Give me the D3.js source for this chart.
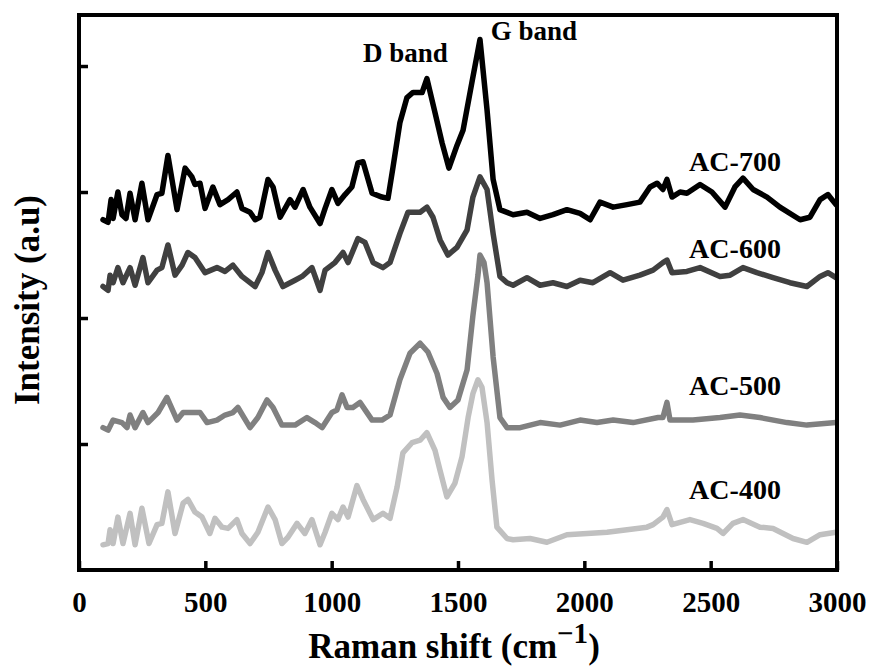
<!DOCTYPE html>
<html>
<head>
<meta charset="utf-8">
<script src="https://cdn.jsdelivr.net/npm/d3@7"></script>
<style>
  body { margin: 0; background: #fff; }
  text { font-family: "Liberation Serif", "Times New Roman", serif; font-weight: bold; }
</style>
</head>
<body>
<script>
// Raman spectra, offset vertically (a.u.)
var ac700x = [95,115,127,135,154,170,186,202,222,249,273,309,328,352,388,420,447,459,479,499,530,558,590,625,645,677,697,716,748,768,796,835,855,887,914,954,974,1001,1025,1053,1080,1104,1124,1160,1199,1223,1243,1270,1298,1322,1358,1377,1409,1437,1464,1496,1520,1555,1587,1615,1639,1666,1718,1773,1825,1876,1931,1983,2023,2062,2114,2169,2220,2260,2288,2311,2327,2347,2379,2406,2458,2505,2557,2596,2628,2668,2723,2774,2854,2893,2933,2964,2996];
var ac700y = [2.78,2.76,2.94,2.79,3.00,2.82,2.79,2.99,2.78,3.07,2.78,2.98,2.99,3.29,2.86,3.19,3.12,3.06,3.07,2.87,3.04,2.90,2.94,3.00,2.87,2.84,2.78,2.80,3.10,3.04,2.80,2.94,2.88,3.02,2.88,2.75,2.87,3.02,2.91,2.98,3.04,3.23,3.24,2.99,2.96,2.95,3.20,3.55,3.75,3.79,3.79,3.90,3.63,3.39,3.19,3.37,3.49,3.87,4.21,3.65,3.10,2.86,2.82,2.84,2.79,2.82,2.86,2.83,2.78,2.92,2.88,2.90,2.92,3.04,3.07,3.02,3.10,2.96,3.00,2.99,3.06,3.00,2.88,3.04,3.11,3.02,2.96,2.88,2.78,2.80,2.94,2.98,2.90];

var ac600x = [95,115,123,135,154,174,202,222,253,273,309,328,352,380,408,431,459,499,546,578,609,645,697,724,748,776,807,855,883,922,954,974,1013,1045,1065,1104,1132,1164,1203,1231,1270,1302,1350,1377,1401,1429,1460,1496,1536,1559,1587,1615,1639,1666,1694,1718,1773,1825,1876,1931,1983,2034,2102,2153,2220,2272,2311,2327,2347,2406,2458,2537,2577,2628,2683,2747,2814,2881,2933,2964,2996];
var ac600y = [2.25,2.22,2.34,2.28,2.40,2.28,2.40,2.26,2.48,2.28,2.38,2.40,2.58,2.34,2.42,2.52,2.48,2.36,2.40,2.37,2.42,2.33,2.25,2.36,2.52,2.38,2.25,2.30,2.33,2.40,2.22,2.38,2.44,2.52,2.44,2.63,2.60,2.44,2.40,2.44,2.67,2.84,2.84,2.88,2.80,2.62,2.50,2.56,2.70,2.96,3.12,3.02,2.67,2.33,2.28,2.26,2.32,2.26,2.28,2.25,2.30,2.28,2.36,2.30,2.34,2.38,2.44,2.46,2.36,2.37,2.40,2.33,2.34,2.40,2.36,2.32,2.28,2.25,2.33,2.36,2.32];

var ac500x = [95,115,135,170,190,202,222,253,273,313,348,388,412,447,479,507,546,578,609,629,677,708,744,768,803,855,902,934,962,1001,1021,1041,1061,1084,1112,1160,1199,1231,1270,1310,1350,1381,1417,1441,1468,1500,1536,1559,1579,1587,1603,1615,1639,1666,1694,1746,1825,1904,1983,2050,2114,2193,2292,2311,2327,2339,2430,2537,2616,2695,2802,2881,2996];
var ac500y = [1.13,1.11,1.19,1.17,1.13,1.23,1.13,1.25,1.17,1.25,1.37,1.19,1.25,1.25,1.25,1.17,1.19,1.23,1.25,1.29,1.13,1.21,1.35,1.29,1.15,1.15,1.21,1.17,1.13,1.25,1.27,1.39,1.29,1.29,1.33,1.19,1.19,1.23,1.51,1.72,1.80,1.73,1.56,1.37,1.29,1.35,1.59,2.02,2.34,2.50,2.44,2.28,1.69,1.21,1.13,1.13,1.17,1.15,1.19,1.17,1.19,1.17,1.21,1.21,1.33,1.19,1.19,1.21,1.23,1.21,1.17,1.15,1.17];

var ac400x = [95,115,123,135,154,174,202,222,249,277,309,328,352,380,412,431,459,487,518,538,566,590,625,645,677,708,748,776,803,827,863,894,922,954,974,1001,1025,1045,1065,1100,1124,1164,1203,1231,1259,1282,1318,1350,1377,1409,1429,1456,1488,1516,1540,1559,1579,1595,1615,1635,1654,1694,1718,1785,1852,1931,2011,2090,2169,2248,2272,2311,2327,2347,2418,2470,2525,2549,2588,2628,2695,2747,2826,2881,2933,2996];
var ac400y = [0.20,0.21,0.32,0.21,0.42,0.21,0.45,0.20,0.49,0.21,0.36,0.37,0.62,0.29,0.53,0.56,0.46,0.42,0.29,0.41,0.34,0.33,0.40,0.29,0.21,0.30,0.50,0.40,0.21,0.26,0.37,0.29,0.40,0.20,0.30,0.45,0.40,0.50,0.42,0.67,0.56,0.40,0.45,0.41,0.66,0.93,1.01,1.03,1.09,0.95,0.79,0.58,0.69,0.90,1.21,1.40,1.51,1.45,1.17,0.71,0.34,0.25,0.24,0.25,0.22,0.28,0.29,0.30,0.32,0.34,0.36,0.42,0.48,0.36,0.40,0.37,0.33,0.29,0.37,0.40,0.34,0.33,0.25,0.22,0.28,0.30];

var seriesNames = ["AC-700", "AC-600", "AC-500", "AC-400"];
var seriesColors = ["#000000", "#404040", "#808080", "#c0c0c0"];
var labelY = [3.17, 2.48, 1.39, 0.56];
var xTicks = [0, 500, 1000, 1500, 2000, 2500, 3000];
var yTicks = [1, 2, 3, 4];
var bandLabels = [{t: "D band", x: 1292, y: 4.03}, {t: "G band", x: 1800, y: 4.21}];

var series = [
  d3.zip(ac700x, ac700y),
  d3.zip(ac600x, ac600y),
  d3.zip(ac500x, ac500y),
  d3.zip(ac400x, ac400y)
];

var W = 871, H = 666;
var m = {left: 79, right: 34, top: 15, bottom: 96};

var svg = d3.select("body").append("svg")
    .attr("width", W)
    .attr("height", H);

var x = d3.scaleLinear().domain([0, 3000]).range([m.left, W - m.right]);
var y = d3.scaleLinear().domain([0, 4.405]).range([H - m.bottom, m.top]);

var line = d3.line()
    .x(function(d){ return x(d[0]); })
    .y(function(d){ return y(d[1]); });

// spectra, bottom one drawn first
svg.selectAll("path.spec")
    .data(series.slice().reverse())
    .enter()
    .append("path")
    .attr("class", "spec")
    .attr("d", line)
    .attr("fill", "none")
    .attr("stroke", function(d, i){ return seriesColors[3 - i]; })
    .attr("stroke-width", 5.5)
    .attr("stroke-linejoin", "round")
    .attr("stroke-linecap", "round");

// frame
svg.append("rect")
    .attr("x", x(0))
    .attr("y", y(4.405))
    .attr("width", x(3000) - x(0))
    .attr("height", y(0) - y(4.405))
    .attr("fill", "none")
    .attr("stroke", "#000")
    .attr("stroke-width", 4);

// x axis, ticks inside
var xAxis = svg.append("g")
    .attr("transform", "translate(0," + y(0) + ")")
    .call(d3.axisBottom(x).tickValues(xTicks).tickFormat(d3.format("d"))
        .tickSizeInner(-9).tickSizeOuter(0).tickPadding(21));
xAxis.select(".domain").remove();
xAxis.selectAll("line").attr("stroke-width", 3.5);
xAxis.selectAll("text")
    .attr("font-size", 29)
    .attr("fill", "#000")
    .attr("font-family", "Liberation Serif, serif")
    .attr("font-weight", "bold");

// y axis, no labels
var yAxis = svg.append("g")
    .attr("transform", "translate(" + x(0) + ",0)")
    .call(d3.axisLeft(y).tickValues(yTicks).tickSizeInner(-9).tickSizeOuter(0).tickFormat(""));
yAxis.select(".domain").remove();
yAxis.selectAll("line").attr("stroke-width", 3.5);

// series labels
svg.selectAll("text.lab")
    .data(seriesNames)
    .enter()
    .append("text")
    .attr("class", "lab")
    .attr("x", 735)
    .attr("y", function(d, i){ return y(labelY[i]); })
    .attr("text-anchor", "middle")
    .attr("font-size", 28)
    .text(function(d){ return d; });

svg.selectAll("text.band")
    .data(bandLabels)
    .enter()
    .append("text")
    .attr("class", "band")
    .attr("x", function(d){ return x(d.x); })
    .attr("y", function(d){ return y(d.y); })
    .attr("text-anchor", "middle")
    .attr("font-size", 27)
    .text(function(d){ return d.t; });

// axis titles
var xt = svg.append("text")
    .attr("x", 454)
    .attr("y", 658)
    .attr("text-anchor", "middle")
    .attr("font-size", 35);
xt.append("tspan").text("Raman shift (cm");
xt.append("tspan").attr("dy", -15).attr("font-size", 29).text("\u22121");
xt.append("tspan").attr("dy", 15).text(")");

svg.append("text")
    .attr("transform", "translate(39,300) rotate(-90)")
    .attr("text-anchor", "middle")
    .attr("font-size", 35)
    .text("Intensity (a.u)");
</script>
</body>
</html>
